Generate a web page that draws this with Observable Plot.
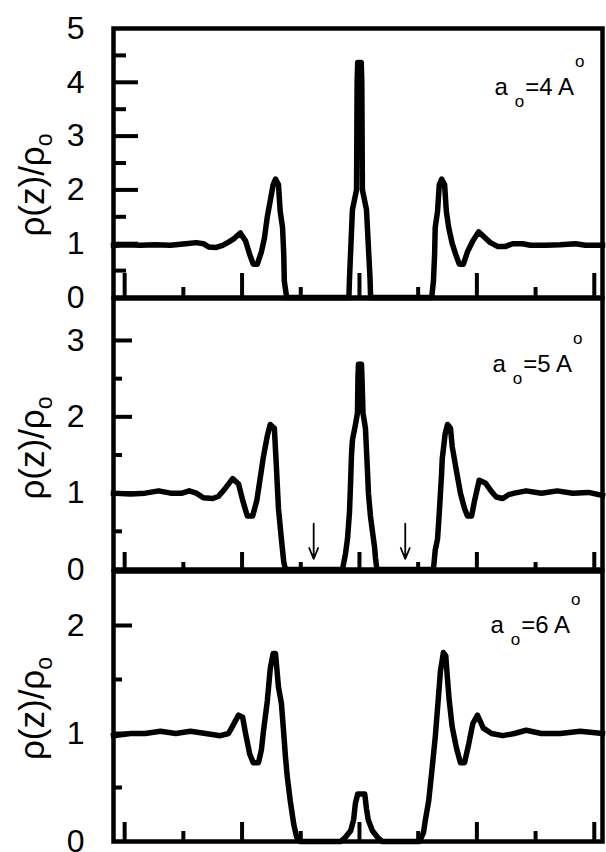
<!DOCTYPE html>
<html><head><meta charset="utf-8">
<script src="https://cdn.jsdelivr.net/npm/d3@7"></script>
<script src="https://cdn.jsdelivr.net/npm/@observablehq/plot@0.6"></script>
<style>
html,body{margin:0;padding:0;background:#fff;}
#chart{position:relative;width:606px;height:852px;overflow:hidden;}
#chart svg{position:absolute;left:0;}
</style></head><body><div id="chart"></div>
<script>
// ---- data (z in reduced units, ticks every 1; rho(z)/rho0) ----
const zA4 = [-4.19,-3.99,-3.73,-3.48,-3.22,-2.96,-2.78,-2.66,-2.57,-2.44,-2.33,-2.23,-2.13,-2.03,-1.94,-1.87,-1.81,-1.74,-1.67,-1.62,-1.57,-1.52,-1.47,-1.43,-1.38,-1.35,-1.31,-1.29,-1.28,-1.24,
  -0.18,-0.17,-0.12,-0.05,-0.04,-0.03,0.03,0.04,0.05,0.12,0.18,0.19,
  1.23,1.26,1.28,1.29,1.33,1.36,1.40,1.45,1.48,1.52,1.58,1.64,1.70,1.77,1.84,1.93,2.03,2.13,2.23,2.35,2.49,2.61,2.78,2.91,3.17,3.42,3.68,3.85,4.14];
const rhoA4 = [0.97,0.98,0.97,0.98,0.97,1.0,1.02,1.0,0.94,0.93,0.97,1.03,1.1,1.2,1.05,0.8,0.62,0.62,0.85,1.1,1.5,1.8,2.1,2.2,2.1,1.6,1.3,0.8,0.3,0,
  0,0.35,1.63,2.0,4.0,4.37,4.37,4.0,2.0,1.63,0.35,0,
  0,0.3,0.8,1.3,1.6,2.1,2.2,2.1,1.6,1.3,1.0,0.8,0.62,0.62,0.85,1.05,1.22,1.12,1.02,0.95,0.95,1.0,1.0,0.97,0.97,0.98,1.0,0.97,0.97];

const zA5 = [-4.19,-3.9,-3.65,-3.42,-3.22,-3.02,-2.90,-2.78,-2.66,-2.50,-2.40,-2.30,-2.16,-2.06,-1.98,-1.91,-1.82,-1.75,-1.70,-1.64,-1.57,-1.52,-1.45,-1.42,-1.38,-1.33,-1.29,-1.26,
  -0.29,-0.239,-0.204,-0.170,-0.153,-0.136,-0.119,-0.068,-0.034,-0.026,-0.017,0.034,0.043,0.060,0.102,0.136,0.153,0.187,0.221,0.256,0.273,0.296,
  1.26,1.29,1.33,1.36,1.40,1.41,1.46,1.50,1.55,1.58,1.65,1.72,1.79,1.84,1.91,1.96,2.04,2.15,2.25,2.33,2.44,2.54,2.64,2.84,3.10,3.37,3.63,3.90,4.14];
const rhoA5 = [1.0,0.99,1.0,1.03,1.0,1.0,1.03,1.0,0.94,0.93,0.96,1.05,1.19,1.12,0.88,0.7,0.7,0.9,1.15,1.46,1.75,1.9,1.85,1.42,0.8,0.4,0.1,0,
  0,0.2,0.4,0.75,1.1,1.5,1.7,1.9,2.05,2.5,2.69,2.69,2.5,2.05,1.85,1.3,1.0,0.7,0.5,0.3,0.15,0,
  0,0.25,0.4,0.75,1.27,1.45,1.78,1.9,1.85,1.61,1.3,1.0,0.8,0.7,0.7,0.9,1.17,1.13,1.02,0.95,0.93,0.98,1.0,1.03,1.0,1.03,1.0,1.01,0.97];

const zA6 = [-4.19,-3.90,-3.65,-3.39,-3.13,-2.88,-2.62,-2.37,-2.23,-2.15,-2.06,-1.99,-1.94,-1.87,-1.81,-1.72,-1.67,-1.64,-1.57,-1.52,-1.47,-1.43,-1.38,-1.33,-1.29,-1.26,-1.23,-1.18,-1.12,-1.07,-1.01,
  -0.32,-0.24,-0.15,-0.10,-0.07,-0.03,0.09,0.12,0.15,0.22,0.32,0.39,
  1.02,1.09,1.12,1.18,1.24,1.29,1.35,1.38,1.43,1.47,1.50,1.53,1.58,1.65,1.72,1.79,1.86,1.93,2.01,2.11,2.25,2.44,2.64,2.84,3.10,3.42,3.76,4.14];
const rhoA6 = [0.98,1.0,1.0,1.02,1.0,1.02,1.0,0.98,1.0,1.08,1.17,1.15,1.0,0.81,0.73,0.73,0.85,1.0,1.3,1.6,1.74,1.74,1.43,1.28,1.0,0.78,0.6,0.38,0.16,0.04,0,
  0,0.04,0.1,0.2,0.35,0.44,0.44,0.3,0.2,0.1,0.03,0,
  0,0.08,0.19,0.38,0.69,0.96,1.37,1.58,1.75,1.72,1.5,1.3,1.06,0.87,0.73,0.73,0.9,1.09,1.17,1.05,1.0,0.98,1.0,1.03,1.0,1.0,1.02,1.0];

const panelNames = ["4", "5", "6"];           // a_o values (Å)
const yTickLabels = [[0,1,2,3,4,5],[0,1,2,3],[0,1,2]];
const yMaxes = [5, 3.55, 2.5];
const xMajorTicks = [-4,-2,0,2,4];
const xMinorTicks = [-3,-1,1,3];
const arrowZ = [-0.78, 0.78];   // arrows in a_o = 5 panel
const arrowTop = 0.6, arrowBottom = 0.14;
const xDomain = [-4.19, 4.14];

// ---- layout ----
const W = 606, ML = 113, MR = 4, innerW = W - ML - MR;
const FONT = "Liberation Sans, Arial, sans-serif";
const panels = [
  {z: zA4, rho: rhoA4, top: 0, mt: 28, ih: 269, mb: 4, yMajLen: 25, yMinLen: 13, xMajLen: 24, xMinLen: 10,
   noteDx: -108, noteDy: 49, ylabDy: 22},
  {z: zA5, rho: rhoA5, top: 293, mt: 5, ih: 271, mb: 4, yMajLen: 19, yMinLen: 9, xMajLen: 17, xMinLen: 7,
   noteDx: -110, noteDy: 56, ylabDy: 14, arrows: true},
  {z: zA6, rho: rhoA6, top: 566, mt: 5, ih: 270, mb: 6, yMajLen: 19, yMinLen: 9, xMajLen: 19, xMinLen: 10,
   noteDx: -112, noteDy: 44, ylabDy: 2}
];

function setTspans(svg, content, parts) {
  const t = Array.from(svg.querySelectorAll("text")).find(e => e.textContent === content);
  if (!t) return;
  t.textContent = "";
  for (const p of parts) {
    const ts = document.createElementNS("http://www.w3.org/2000/svg", "tspan");
    ts.textContent = p.text;
    for (const k in (p.attrs || {})) ts.setAttribute(k, p.attrs[k]);
    t.appendChild(ts);
  }
}

const chart = document.getElementById("chart");
panels.forEach((p, i) => {
  const data = p.z.map((z, j) => ({z, rho: p.rho[j]}));
  const yMax = yMaxes[i];
  const labels = yTickLabels[i];
  const majors = labels.filter(v => v > 0 && v < yMax);
  const minors = labels.map(v => v + 0.5).filter(v => v < yMax - 0.1);
  const noteText = "a=" + panelNames[i];
  const marks = [
    Plot.axisY(labels, {anchor: "left", label: null, tickSize: 0, tickPadding: 29, fontSize: 32, fill: "black", tickFormat: d => String(d)}),
    Plot.tickY(majors, {y: d => d, stroke: "black", strokeWidth: 4, insetRight: innerW - p.yMajLen}),
    Plot.tickY(minors, {y: d => d, stroke: "black", strokeWidth: 4, insetRight: innerW - p.yMinLen}),
    Plot.tickX(xMajorTicks, {x: d => d, stroke: "black", strokeWidth: 4, insetTop: p.ih - p.xMajLen}),
    Plot.tickX(xMinorTicks, {x: d => d, stroke: "black", strokeWidth: 4, insetTop: p.ih - p.xMinLen}),
    Plot.line(data, {x: "z", y: "rho", stroke: "black", strokeWidth: 5.5, strokeLinejoin: "round", strokeLinecap: "square"}),
    Plot.text(["ρ(z)/ρ"], {frameAnchor: "left", textAnchor: "middle", dx: -81, dy: p.ylabDy, rotate: -90, fontSize: 35, fill: "black"}),
    Plot.text([noteText], {frameAnchor: "top-right", textAnchor: "start", dx: p.noteDx, dy: p.noteDy, fontSize: 24, fill: "black"}),
    Plot.frame({stroke: "black", strokeWidth: 4.5})
  ];
  if (p.arrows) {
    const arr = arrowZ.map(z => ({z, top: arrowTop, bottom: arrowBottom}));
    marks.splice(6, 0, Plot.arrow(arr, {x1: "z", x2: "z", y1: "top", y2: "bottom", stroke: "black", strokeWidth: 1.8, headLength: 10, headAngle: 45}));
  }
  const svg = Plot.plot({
    width: W, height: p.mt + p.ih + p.mb,
    marginLeft: ML, marginRight: MR, marginTop: p.mt, marginBottom: p.mb,
    x: {domain: xDomain, axis: null},
    y: {domain: [0, yMax], axis: null},
    style: {background: "transparent", overflow: "visible", fontFamily: FONT, color: "black"},
    marks
  });
  svg.style.top = p.top + "px";
  setTspans(svg, "ρ(z)/ρ", [{text: "ρ(z)/ρ"}, {text: "o", attrs: {"font-size": 23, dy: 8}}]);
  setTspans(svg, noteText, [
    {text: "a"},
    {text: "o", attrs: {"font-size": 17, dx: 7, dy: 12}},
    {text: "=" + panelNames[i] + " A", attrs: {dx: 1, dy: -12}},
    {text: "o", attrs: {"font-size": 17, dx: 1, dy: -28}}
  ]);
  chart.appendChild(svg);
});
</script></body></html>
